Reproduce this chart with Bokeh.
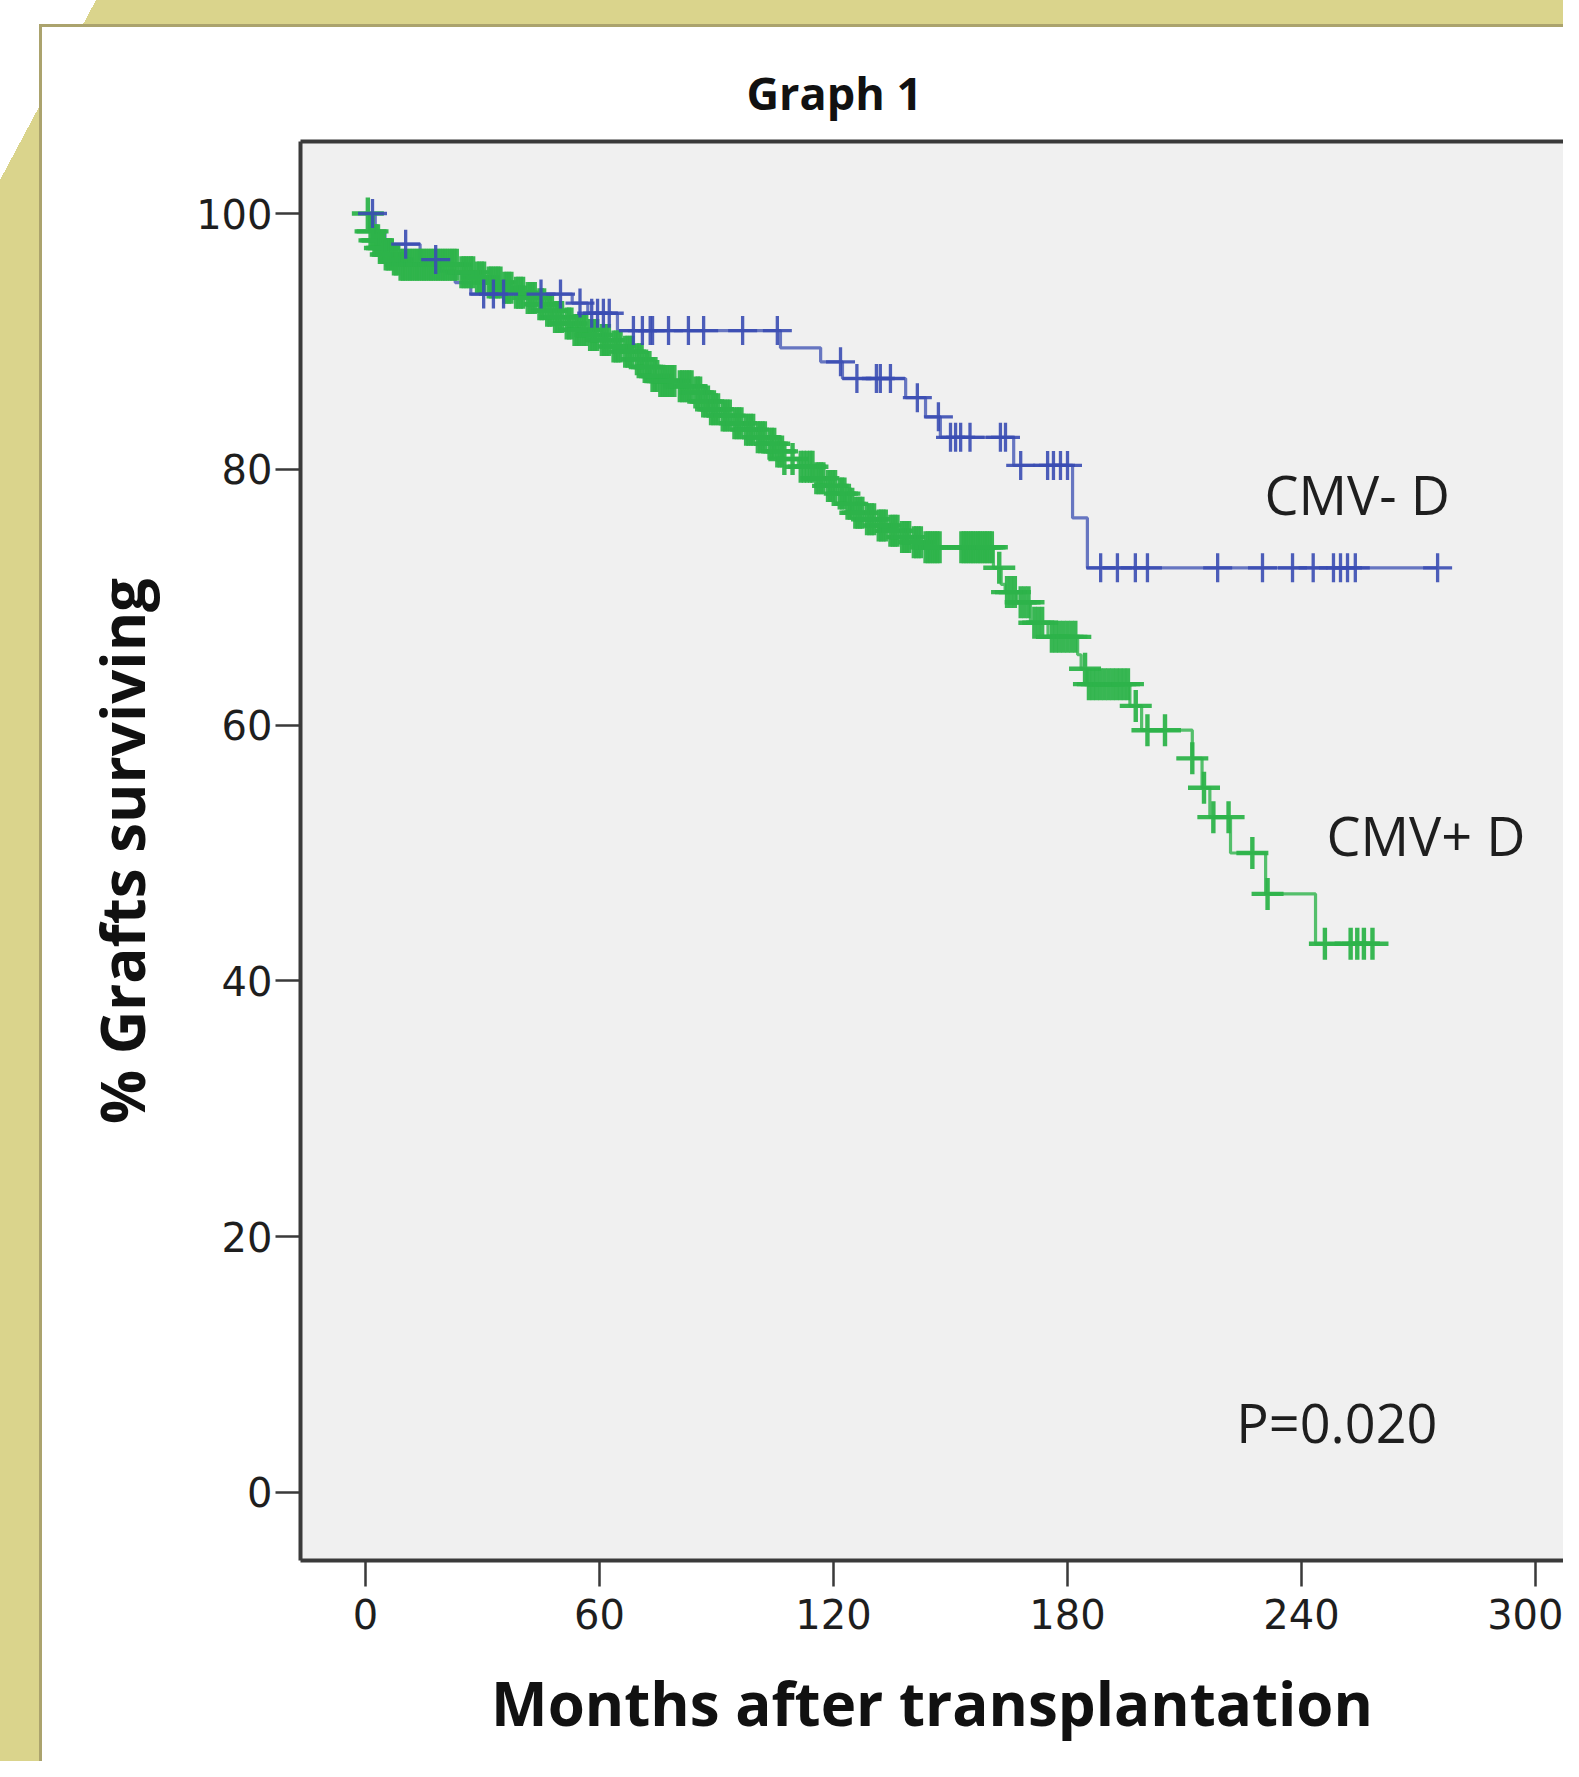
import bisect
from bokeh.plotting import figure
from bokeh.models import Range1d, FixedTicker, LinearAxis
from bokeh.core.properties import value
from bokeh.embed import file_html
from bokeh.resources import INLINE

# ---------------- data ----------------
title_text = "Graph 1"
x_label = "Months after transplantation"
y_label = "% Grafts surviving"
x_ticks = [0, 60, 120, 180, 240, 300]
y_ticks = [0, 20, 40, 60, 80, 100]
series_names = ["CMV- D", "CMV+ D"]
p_value_text = "P=0.020"

# CMV- donor (blue): step times (months) and survival (%) after each step
neg_times = [0, 2.5, 5, 14, 19, 23, 27, 53, 57, 64.6, 106.4, 116.7, 122.3,
             138.5, 143.6, 147.4, 166.2, 181.3, 185.1]
neg_surv = [100, 98.6, 97.6, 96.4, 95.5, 94.6, 93.7, 93.0, 92.2, 90.85, 89.5,
            88.4, 87.1, 85.6, 84.1, 82.5, 80.3, 76.2, 72.3]
neg_censor = [1.8, 10.3, 18, 30.3, 32.8, 35.4, 45, 50, 55, 58, 59.5, 61, 62.5,
              68.7, 71, 73, 73.6, 77.7, 82.8, 86.7, 96.7, 105.6, 121.8, 126,
              131, 132, 134.6, 141.5, 146.9, 150, 151.3, 152.6, 155, 162.8,
              164.1, 168, 174.9, 176.4, 178.2, 180, 188.5, 192.8, 197.4, 200.5,
              218.5, 230, 237.7, 243, 248.2, 250, 251.8, 253.8, 274.9]

# CMV+ donor (green)
pos_times = [0, 1.0, 2, 3.5, 5, 7, 9, 24, 28, 31, 35, 38, 41, 44, 46, 48, 51,
             53, 57, 60, 63, 66, 69, 71, 73, 75, 80, 84, 86, 88, 91, 94, 97,
             100, 103, 105, 107, 111, 115, 118, 121, 123, 125, 128, 131, 134,
             137, 140, 143, 161, 163, 164, 167, 170.5, 175, 182.6, 183.5, 185,
             196, 199, 212, 214.5, 216.5, 221.8, 230.8, 243.6]
pos_surv = [100, 98.6, 97.9, 97.3, 96.8, 96.4, 96.0, 95.4, 95.0, 94.6, 94.2,
            93.8, 93.4, 92.9, 92.4, 91.9, 91.4, 90.9, 90.5, 90.1, 89.6, 89.2,
            88.6, 88.0, 87.3, 86.9, 86.5, 86.0, 85.3, 84.7, 84.2, 83.6, 83.1,
            82.5, 82.0, 81.4, 80.8, 80.2, 79.3, 78.7, 78.1, 77.3, 76.6, 76.1,
            75.6, 75.2, 74.7, 74.3, 73.9, 72.3, 71.0, 70.4, 69.6, 68.0, 66.9,
            65.5, 64.4, 63.2, 61.5, 59.6, 57.4, 55.1, 52.8, 50.0, 46.8, 42.9]
pos_censor = [
    0.6, 1.3, 1.8, 2.3, 2.8, 3.2, 3.7, 4.2, 4.7, 5.2, 5.7, 6.2, 6.7, 7.3, 7.8,
    8.4, 9.0, 9.6, 10.2, 10.8, 11.4, 12.0, 12.6, 13.2, 13.8, 14.4, 15.0, 15.6,
    16.2, 16.8, 17.4, 18.0, 18.6, 19.2, 19.8, 20.4, 21.0, 21.6, 22.2, 22.8,
    23.4, 24.6, 25.2, 25.8, 26.4, 27.0, 27.6, 28.6, 29.2, 29.8, 30.4, 31.6,
    32.2, 32.8, 33.4, 34.0, 34.6, 35.6, 36.2, 36.8, 37.4, 38.6, 39.2, 39.8,
    40.4, 41.6, 42.2, 42.8, 43.4, 44.6, 45.2, 45.8, 46.6, 47.2, 47.8, 48.6,
    49.2, 49.8, 50.4, 51.6, 52.2, 52.8, 53.6, 54.2, 54.8, 55.4, 56.0, 56.6,
    57.6, 58.2, 58.8, 59.4, 60.6, 61.2, 61.8, 62.4, 63.6, 64.2, 64.8, 65.4,
    66.6, 67.2, 67.8, 68.4, 69.6, 70.2, 70.8, 71.6, 72.2, 72.8, 73.6, 74.2,
    74.8, 75.6, 76.2, 76.8, 77.4, 78.0, 78.6, 79.2, 80.6, 81.2, 81.8, 82.4,
    83.0, 83.6, 84.6, 85.2, 85.8, 86.6, 87.2, 87.8, 88.6, 89.2, 89.8, 90.4,
    91.6, 92.2, 92.8, 93.4, 94.6, 95.2, 95.8, 96.4, 97.6, 98.2, 98.8, 99.4,
    100.6, 101.2, 101.8, 102.4, 103.6, 104.2, 104.8, 105.6, 106.2, 106.8,
    107.4, 109.5, 111.6, 112.4, 113.2, 114.0, 114.6, 115.6, 116.2, 116.8,
    117.4, 118.6, 119.2, 119.8, 120.4, 121.6, 122.2, 122.8, 123.6, 124.2,
    124.8, 125.6, 126.2, 126.8, 127.4, 128.6, 129.2, 129.8, 130.4, 131.6,
    132.2, 132.8, 133.4, 134.6, 135.2, 135.8, 136.4, 137.6, 138.2, 138.8,
    139.4, 140.6, 141.2, 141.8, 142.4, 143.6, 144.2, 144.8, 145.4, 146.0,
    146.6, 147.2, 152.8, 153.4, 154.0, 154.6, 155.2, 155.8, 156.4, 157.0,
    157.6, 158.2, 158.8, 159.4, 160.0, 160.6, 162.5, 164.5, 165.5, 166.5,
    168, 169, 170, 171.5, 172.5, 173.5, 176, 177, 178, 179, 180, 181, 182,
    184.5, 185.5, 186.5, 187.5, 188.5, 189.5, 190.5, 191.5, 192.5, 193.5,
    194.5, 195.5, 197.5, 200.5, 205, 212, 215, 217.4, 221.3, 227.4, 231.3,
    246, 252.6, 254.3, 256, 258.2]

# ---------------- layout constants ----------------
W, H = 1563, 1761
FL, FT, FB = 300, 141, 1560          # frame left / top / bottom (px)
PX_PER_MONTH = 3.9
X0 = -65 / PX_PER_MONTH
X1 = X0 + (W - FL) / PX_PER_MONTH
Y0, Y1 = -5.32, 105.63
BLUE = "#3A4DB2"
GREEN = "#2DB34A"
INK = "#1e1e1e"
AXIS = "#3a3a3a"
KHAKI = "#DAD48C"
EDGE = "#ABA36D"


def surv_at(times, surv, t):
    return surv[bisect.bisect_right(times, t) - 1]


# decorative card background (CSS layers, topmost first)
bg_layers = [
    ("linear-gradient(%s, %s)" % (EDGE, EDGE), "40px 24px", "1600px 3px"),
    ("linear-gradient(%s, %s)" % (EDGE, EDGE), "39px 24px", "3px 1800px"),
    ("linear-gradient(to bottom right, #ffffff 50%, rgba(255,255,255,0) 50%)",
     "0px 0px", "96px 180px"),
    ("linear-gradient(%s, %s)" % (KHAKI, KHAKI), "0px 0px", "1600px 25px"),
    ("linear-gradient(%s, %s)" % (KHAKI, KHAKI), "0px 0px", "40px 1800px"),
]

p = figure(width=W, height=H, output_backend="svg", toolbar_location=None,
           x_range=Range1d(X0, X1), y_range=Range1d(Y0, Y1),
           min_border_left=FL, min_border_top=FT, min_border_bottom=H - FB,
           min_border_right=0, background_fill_color="#F0F0F0",
           border_fill_color=None, outline_line_color=None)
p.styles = {
    "background-color": "#ffffff",
    "background-image": ", ".join(b[0] for b in bg_layers),
    "background-position": ", ".join(b[1] for b in bg_layers),
    "background-size": ", ".join(b[2] for b in bg_layers),
    "background-repeat": "no-repeat",
}
p.grid.visible = False

# axes
for ax in (p.xaxis[0], p.yaxis[0]):
    ax.axis_line_width = 4
    ax.axis_line_color = AXIS
    ax.major_tick_in = 0
    ax.major_tick_line_width = 2.5
    ax.major_tick_line_color = AXIS
    ax.minor_tick_in = 0
    ax.minor_tick_out = 0
    ax.major_label_text_font = "DejaVu Sans"
    ax.major_label_text_font_size = "40px"
    ax.major_label_text_color = INK
    ax.axis_label_text_font = "Open Sans"
    ax.axis_label_text_font_style = "bold"
    ax.axis_label_text_font_size = "60px"
    ax.axis_label_text_color = "#111111"

p.xaxis.ticker = FixedTicker(ticks=x_ticks)
p.yaxis.ticker = FixedTicker(ticks=y_ticks)
p.xaxis.major_tick_out = 26
p.yaxis.major_tick_out = 25
p.xaxis.major_label_standoff = 12
p.yaxis.major_label_standoff = 3
p.xaxis.axis_label = x_label
p.yaxis.axis_label = y_label
p.xaxis.axis_label_standoff = 30
p.yaxis.axis_label_standoff = 30

top_axis = LinearAxis(ticker=FixedTicker(ticks=[]), axis_line_width=4,
                      axis_line_color=AXIS, major_tick_out=0, major_tick_in=0,
                      minor_tick_out=0, minor_tick_in=0,
                      major_label_text_font_size="0px")
p.add_layout(top_axis, "above")

# title
p.title.text = title_text
p.title.text_font = "Open Sans"
p.title.text_font_style = "bold"
p.title.text_font_size = "45px"
p.title.text_color = "#111111"
p.title.align = "left"
p.title.offset = 446
p.title.standoff = 37

# curves
neg_x = neg_times + [neg_censor[-1]]
neg_y = neg_surv + [neg_surv[-1]]
pos_x = pos_times + [pos_censor[-1]]
pos_y = pos_surv + [pos_surv[-1]]

p.step(neg_x, neg_y, mode="after", line_color=BLUE, line_width=3.2, line_alpha=0.75)
p.step(pos_x, pos_y, mode="after", line_color=GREEN, line_width=3.2, line_alpha=0.8)

p.scatter(pos_censor, [surv_at(pos_times, pos_surv, t) for t in pos_censor],
          marker="cross", size=32, line_color=GREEN, line_width=4.4, line_alpha=0.95)
p.scatter(neg_censor, [surv_at(neg_times, neg_surv, t) for t in neg_censor],
          marker="cross", size=29, line_color=BLUE, line_width=3.3, line_alpha=0.9)

# in-plot texts
txt = dict(text_font=value("Open Sans"), text_font_size="54px",
           text_baseline="alphabetic", text_color=INK)
p.text(x=[230.5], y=[78.05], text=[series_names[0]], **txt)
p.text(x=[246.4], y=[51.39], text=[series_names[1]], **txt)
p.text(x=[223.3], y=[5.49], text=[p_value_text], **txt)

open("out.html", "w").write(file_html(p, INLINE))
